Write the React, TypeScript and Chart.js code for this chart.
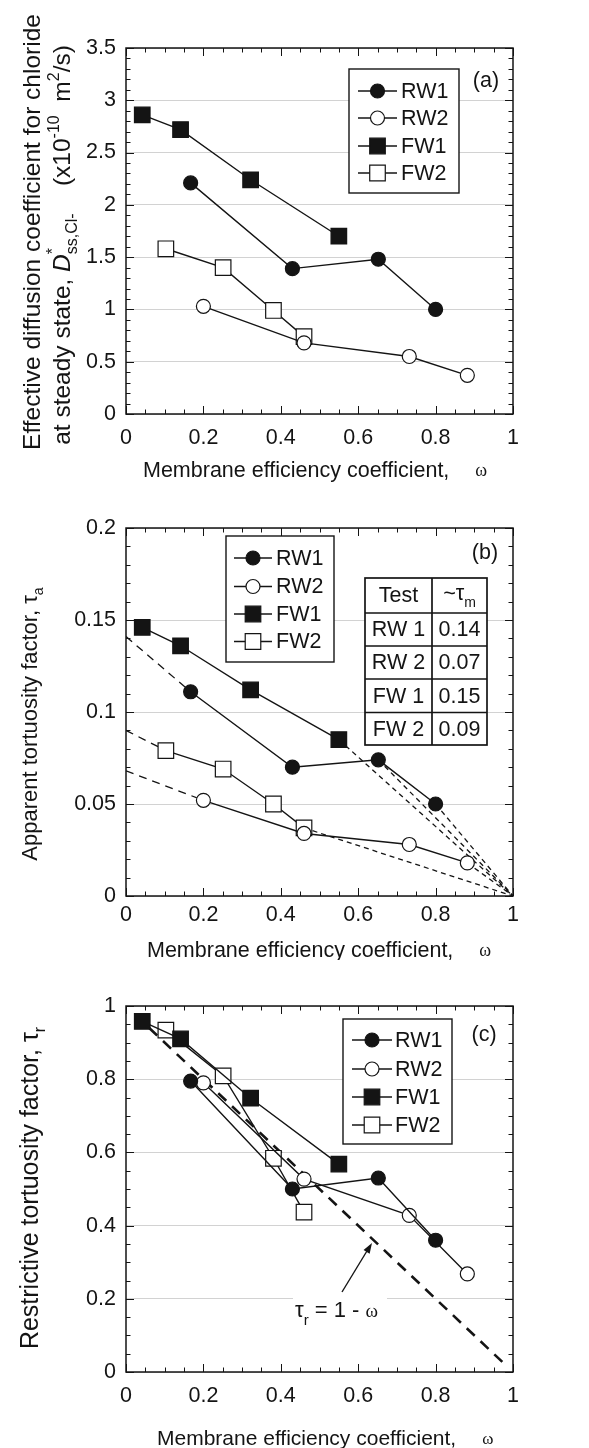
import React, { useEffect, useRef } from "react";
import { Chart, registerables } from "chart.js";

Chart.register(...registerables);

// ---------------- data ----------------
const seriesNames = ["RW1", "RW2", "FW1", "FW2"];

// membrane efficiency coefficient (omega) for each test
const rw1Omega = [0.167, 0.43, 0.652, 0.8];
const rw2Omega = [0.2, 0.46, 0.732, 0.882];
const fw1Omega = [0.042, 0.141, 0.322, 0.55];
const fw2Omega = [0.103, 0.251, 0.381, 0.46];

// (a) effective diffusion coefficient D*ss,Cl- (x1e-10 m2/s)
const rw1D = [2.21, 1.39, 1.48, 1.0];
const rw2D = [1.03, 0.68, 0.55, 0.37];
const fw1D = [2.86, 2.72, 2.24, 1.7];
const fw2D = [1.58, 1.4, 0.99, 0.74];

// (b) apparent tortuosity factor tau_a
const rw1TauA = [0.111, 0.07, 0.074, 0.05];
const rw2TauA = [0.052, 0.034, 0.028, 0.018];
const fw1TauA = [0.146, 0.136, 0.112, 0.085];
const fw2TauA = [0.079, 0.069, 0.05, 0.037];

// (b) dashed extrapolation lines
const extrapRw1LeftX = [0, 0.167];
const extrapRw1LeftY = [0.141, 0.111];
const extrapFw2LeftX = [0, 0.103];
const extrapFw2LeftY = [0.09, 0.079];
const extrapRw2LeftX = [0, 0.2];
const extrapRw2LeftY = [0.068, 0.052];
const extrapFw1RightX = [0.55, 1];
const extrapFw1RightY = [0.085, 0];
const extrapRw1MidX = [0.652, 1];
const extrapRw1MidY = [0.074, 0];
const extrapRw1RightX = [0.8, 1];
const extrapRw1RightY = [0.05, 0];
const extrapFw2RightX = [0.46, 1];
const extrapFw2RightY = [0.037, 0];
const extrapRw2RightX = [0.882, 1];
const extrapRw2RightY = [0.018, 0];

// (b) table
const tableTests = ["RW 1", "RW 2", "FW 1", "FW 2"];
const tableTauM = ["0.14", "0.07", "0.15", "0.09"];

// (c) restrictive tortuosity factor tau_r
const rw1TauR = [0.795, 0.5, 0.53, 0.36];
const rw2TauR = [0.79, 0.527, 0.428, 0.268];
const fw1TauR = [0.958, 0.91, 0.748, 0.568];
const fw2TauR = [0.934, 0.809, 0.584, 0.437];

// (c) tau_r = 1 - omega reference line
const identityOmega = [0.06, 0.985];
const identityTau = [0.94, 0.015];

// tick labels
const xTickLabels = ["0", "0.2", "0.4", "0.6", "0.8", "1"];
const yTickLabelsA = ["0", "0.5", "1", "1.5", "2", "2.5", "3", "3.5"];
const yTickLabelsB = ["0", "0.05", "0.1", "0.15", "0.2"];
const yTickLabelsC = ["0", "0.2", "0.4", "0.6", "0.8", "1"];

// ---------------- styling helpers ----------------
const SANS = '"Liberation Sans", Arial, sans-serif';
const SERIF = '"Liberation Serif", "Times New Roman", serif';
const INK = "#141414";
const LINE_W = 1.4;

type Seg = { t: string; size: number; dy?: number; italic?: boolean; serif?: boolean; noAdv?: boolean };

function fontOf(s: Seg) {
  return `${s.italic ? "italic " : ""}${s.size}px ${s.serif ? SERIF : SANS}`;
}

function drawRich(ctx: CanvasRenderingContext2D, segs: Seg[], x: number, y: number, rotate: boolean, align: "center" | "left") {
  let total = 0;
  for (const s of segs) {
    ctx.font = fontOf(s);
    if (!s.noAdv) total += ctx.measureText(s.t).width;
  }
  ctx.save();
  ctx.translate(x, y);
  if (rotate) ctx.rotate(-Math.PI / 2);
  ctx.fillStyle = INK;
  ctx.textAlign = "left";
  ctx.textBaseline = "alphabetic";
  let cx = align === "center" ? -total / 2 : 0;
  for (const s of segs) {
    ctx.font = fontOf(s);
    ctx.fillText(s.t, cx, s.dy || 0);
    if (!s.noAdv) cx += ctx.measureText(s.t).width;
  }
  ctx.restore();
}

const markerFill = ["#141414", "#fff", "#141414", "#fff"];
const markerStyle = ["circle", "circle", "rect", "rect"];
const CIRCLE_R = 7;
const RECT_R = 11;

function drawMarker(ctx: CanvasRenderingContext2D, k: number, x: number, y: number) {
  ctx.save();
  ctx.fillStyle = markerFill[k];
  ctx.strokeStyle = INK;
  ctx.lineWidth = 1.2;
  ctx.beginPath();
  if (markerStyle[k] === "circle") {
    ctx.arc(x, y, CIRCLE_R, 0, Math.PI * 2);
  } else {
    const h = RECT_R * Math.SQRT1_2;
    ctx.rect(x - h, y - h, 2 * h, 2 * h);
  }
  ctx.fill();
  ctx.stroke();
  ctx.restore();
}

type LegendSpec = { box: [number, number, number, number]; rows: number[]; lineX: [number, number]; textX: number };

function drawLegend(ctx: CanvasRenderingContext2D, spec: LegendSpec) {
  const [x0, y0, x1, y1] = spec.box;
  ctx.save();
  ctx.fillStyle = "#fff";
  ctx.fillRect(x0, y0, x1 - x0, y1 - y0);
  ctx.strokeStyle = INK;
  ctx.lineWidth = 1.4;
  ctx.strokeRect(x0, y0, x1 - x0, y1 - y0);
  seriesNames.forEach((name, k) => {
    const y = spec.rows[k];
    ctx.strokeStyle = INK;
    ctx.lineWidth = LINE_W;
    ctx.beginPath();
    ctx.moveTo(spec.lineX[0], y);
    ctx.lineTo(spec.lineX[1], y);
    ctx.stroke();
    drawMarker(ctx, k, (spec.lineX[0] + spec.lineX[1]) / 2, y);
    ctx.fillStyle = INK;
    ctx.font = `21.5px ${SANS}`;
    ctx.textAlign = "left";
    ctx.textBaseline = "middle";
    ctx.fillText(name, spec.textX, y + 1);
  });
  ctx.restore();
}

function isMajor(v: number, step: number) {
  const r = v / step;
  return Math.abs(r - Math.round(r)) < 1e-6;
}

function drawFrame(chart: any, minorX: number, majorX: number, minorY: number, majorY: number) {
  const { ctx, chartArea: a, scales } = chart;
  const xs = scales.x;
  const ys = scales.y;
  ctx.save();
  ctx.strokeStyle = INK;
  ctx.lineWidth = 1;
  ctx.beginPath();
  const nx = Math.round((xs.max - xs.min) / minorX);
  for (let i = 0; i <= nx; i++) {
    const v = xs.min + i * minorX;
    const px = Math.round(xs.getPixelForValue(v)) + 0.5;
    const L = isMajor(v, majorX) ? 8 : 4.5;
    ctx.moveTo(px, a.bottom);
    ctx.lineTo(px, a.bottom - L);
    ctx.moveTo(px, a.top);
    ctx.lineTo(px, a.top + L);
  }
  const ny = Math.round((ys.max - ys.min) / minorY);
  for (let i = 0; i <= ny; i++) {
    const v = ys.min + i * minorY;
    const py = Math.round(ys.getPixelForValue(v)) + 0.5;
    const L = isMajor(v, majorY) ? 8 : 4.5;
    ctx.moveTo(a.left, py);
    ctx.lineTo(a.left + L, py);
    ctx.moveTo(a.right, py);
    ctx.lineTo(a.right - L, py);
  }
  ctx.stroke();
  ctx.lineWidth = 1.5;
  ctx.strokeRect(a.left, a.top, a.right - a.left, a.bottom - a.top);
  ctx.restore();
}

function drawXTitle(ctx: CanvasRenderingContext2D, x: number, baseline: number, size: number, omegaGap: number) {
  ctx.save();
  ctx.fillStyle = INK;
  ctx.textAlign = "left";
  ctx.textBaseline = "alphabetic";
  ctx.font = `${size}px ${SANS}`;
  const t = "Membrane efficiency coefficient,";
  ctx.fillText(t, x, baseline);
  const w = ctx.measureText(t).width;
  ctx.font = `${Math.round(size * 0.82)}px ${SERIF}`;
  ctx.fillText("ω", x + w + omegaGap, baseline - 1);
  ctx.restore();
}

function seriesDatasets(xArr: number[][], yArr: number[][]) {
  return xArr.map((xv, k) => ({
    label: seriesNames[k],
    data: xv.map((x, i) => ({ x, y: yArr[k][i] })),
    showLine: true,
    borderColor: INK,
    borderWidth: LINE_W,
    backgroundColor: markerFill[k],
    pointStyle: markerStyle[k],
    pointRadius: markerStyle[k] === "circle" ? CIRCLE_R : RECT_R,
    pointBorderColor: INK,
    pointBorderWidth: 1.2,
    pointBackgroundColor: markerFill[k],
    order: 1,
  }));
}

function dashedDataset(xv: number[], yv: number[], dash: number[], width: number) {
  return {
    label: "",
    data: xv.map((x, i) => ({ x, y: yv[i] })),
    showLine: true,
    borderColor: INK,
    borderWidth: width,
    borderDash: dash,
    pointRadius: 0,
    order: 5,
  };
}

type PanelOpts = {
  height: number;
  top: number;
  bottom: number;
  xPad: number;
  yMax: number;
  yStep: number;
  yLabels: string[];
  datasets: any[];
  minorY: number;
  majorY: number;
  extra: (chart: any) => void;
};

function makeConfig(p: PanelOpts): any {
  const tickFont = { family: SANS, size: 21.5 };
  const framePlugin = {
    id: "frame",
    afterDraw(chart: any) {
      drawFrame(chart, 0.05, 0.2, p.minorY, p.majorY);
      p.extra(chart);
    },
  };
  return {
    type: "scatter",
    data: { datasets: p.datasets },
    options: {
      animation: false,
      responsive: false,
      maintainAspectRatio: false,
      devicePixelRatio: 1,
      events: [],
      layout: { padding: { top: p.top, right: 76, left: 0, bottom: 0 } },
      plugins: { legend: { display: false }, tooltip: { enabled: false } },
      scales: {
        x: {
          type: "linear",
          position: "bottom",
          min: 0,
          max: 1,
          ticks: {
            stepSize: 0.2,
            padding: p.xPad,
            color: INK,
            font: tickFont,
            maxRotation: 0,
            autoSkip: false,
            callback: (_v: any, i: number) => xTickLabels[i],
          },
          grid: { display: false, drawTicks: false },
          border: { display: false },
          afterFit: (s: any) => {
            s.height = p.height - p.bottom;
          },
        },
        y: {
          type: "linear",
          position: "left",
          min: 0,
          max: p.yMax,
          ticks: {
            stepSize: p.yStep,
            padding: 10,
            color: INK,
            font: tickFont,
            autoSkip: false,
            callback: (_v: any, i: number) => p.yLabels[i],
          },
          grid: { color: "#d2d2d2", lineWidth: 1, drawTicks: false },
          border: { display: false },
          afterFit: (s: any) => {
            s.width = 126;
          },
        },
      },
    },
    plugins: [framePlugin],
  };
}

// ---------------- panels ----------------
const panelA: PanelOpts = {
  height: 490,
  top: 48,
  bottom: 414,
  xPad: 11,
  yMax: 3.5,
  yStep: 0.5,
  yLabels: yTickLabelsA,
  minorY: 0.1,
  majorY: 0.5,
  datasets: seriesDatasets([rw1Omega, rw2Omega, fw1Omega, fw2Omega], [rw1D, rw2D, fw1D, fw2D]),
  extra: (chart: any) => {
    const ctx: CanvasRenderingContext2D = chart.ctx;
    drawLegend(ctx, { box: [349, 69, 459, 193], rows: [91, 118, 146, 173], lineX: [358, 397], textX: 401 });
    ctx.save();
    ctx.fillStyle = INK;
    ctx.font = `21.5px ${SANS}`;
    ctx.textAlign = "center";
    ctx.textBaseline = "middle";
    ctx.fillText("(a)", 486, 81);
    ctx.restore();
    drawRich(ctx, [{ t: "Effective diffusion coefficient for chloride", size: 24.5 }], 40, 232, true, "center");
    drawRich(
      ctx,
      [
        { t: "at steady state, ", size: 24.5 },
        { t: "D", size: 24.5, italic: true },
        { t: "*", size: 16, dy: -12, noAdv: true },
        { t: "ss,Cl-", size: 16, dy: 7 },
        { t: "    (x10", size: 24.5 },
        { t: "-10", size: 16, dy: -11 },
        { t: "  m", size: 24.5 },
        { t: "2", size: 16, dy: -11 },
        { t: "/s)", size: 24.5 },
      ],
      70,
      245,
      true,
      "center"
    );
    drawXTitle(ctx, 143, 477, 21.5, 26);
  },
};

const panelB: PanelOpts = {
  height: 470,
  top: 38,
  bottom: 406,
  xPad: 6,
  yMax: 0.2,
  yStep: 0.05,
  yLabels: yTickLabelsB,
  minorY: 0.01,
  majorY: 0.05,
  datasets: [
    ...seriesDatasets([rw1Omega, rw2Omega, fw1Omega, fw2Omega], [rw1TauA, rw2TauA, fw1TauA, fw2TauA]),
    dashedDataset(extrapRw1LeftX, extrapRw1LeftY, [8, 6], 1.3),
    dashedDataset(extrapFw2LeftX, extrapFw2LeftY, [8, 6], 1.3),
    dashedDataset(extrapRw2LeftX, extrapRw2LeftY, [8, 6], 1.3),
    dashedDataset(extrapFw1RightX, extrapFw1RightY, [5, 4], 1.3),
    dashedDataset(extrapRw1MidX, extrapRw1MidY, [5, 4], 1.3),
    dashedDataset(extrapRw1RightX, extrapRw1RightY, [5, 4], 1.3),
    dashedDataset(extrapFw2RightX, extrapFw2RightY, [5, 4], 1.3),
    dashedDataset(extrapRw2RightX, extrapRw2RightY, [5, 4], 1.3),
  ],
  extra: (chart: any) => {
    const ctx: CanvasRenderingContext2D = chart.ctx;
    drawLegend(ctx, { box: [226, 46, 334, 172], rows: [68, 96.5, 124, 151.5], lineX: [234, 272], textX: 276 });
    ctx.save();
    ctx.fillStyle = INK;
    ctx.font = `21.5px ${SANS}`;
    ctx.textAlign = "center";
    ctx.textBaseline = "middle";
    ctx.fillText("(b)", 485, 63);
    // table
    const tx = [365, 432, 487];
    const ty = [88, 123, 156, 189, 222.5, 255];
    ctx.fillStyle = "#fff";
    ctx.fillRect(tx[0], ty[0], tx[2] - tx[0], ty[5] - ty[0]);
    ctx.strokeStyle = INK;
    ctx.lineWidth = 1.7;
    ctx.strokeRect(tx[0], ty[0], tx[2] - tx[0], ty[5] - ty[0]);
    ctx.beginPath();
    ctx.moveTo(tx[1], ty[0]);
    ctx.lineTo(tx[1], ty[5]);
    for (let r = 1; r < 5; r++) {
      ctx.moveTo(tx[0], ty[r]);
      ctx.lineTo(tx[2], ty[r]);
    }
    ctx.stroke();
    ctx.fillStyle = INK;
    ctx.font = `21.5px ${SANS}`;
    ctx.fillText("Test", (tx[0] + tx[1]) / 2, (ty[0] + ty[1]) / 2 + 1);
    ctx.restore();
    drawRich(
      ctx,
      [
        { t: "~τ", size: 21.5 },
        { t: "m", size: 14, dy: 7 },
      ],
      (tx[1] + tx[2]) / 2,
      (ty[0] + ty[1]) / 2 + 4,
      false,
      "center"
    );
    ctx.save();
    ctx.fillStyle = INK;
    ctx.font = `21.5px ${SANS}`;
    ctx.textAlign = "center";
    ctx.textBaseline = "middle";
    tableTests.forEach((t, r) => {
      const cy = (ty[r + 1] + ty[r + 2]) / 2 + 1;
      ctx.fillText(t, (tx[0] + tx[1]) / 2, cy);
      ctx.fillText(tableTauM[r], (tx[1] + tx[2]) / 2, cy);
    });
    ctx.restore();
    drawRich(
      ctx,
      [
        { t: "Apparent tortuosity factor, ", size: 22 },
        { t: "τ", size: 22 },
        { t: "a", size: 14, dy: 6 },
      ],
      37,
      234,
      true,
      "center"
    );
    drawXTitle(ctx, 147, 467, 21.5, 26);
  },
};

const panelC: PanelOpts = {
  height: 488,
  top: 46,
  bottom: 412,
  xPad: 11,
  yMax: 1,
  yStep: 0.2,
  yLabels: yTickLabelsC,
  minorY: 0.05,
  majorY: 0.2,
  datasets: [
    ...seriesDatasets([rw1Omega, rw2Omega, fw1Omega, fw2Omega], [rw1TauR, rw2TauR, fw1TauR, fw2TauR]),
    dashedDataset(identityOmega, identityTau, [11, 8], 2.6),
  ],
  extra: (chart: any) => {
    const ctx: CanvasRenderingContext2D = chart.ctx;
    drawLegend(ctx, { box: [343, 59, 452, 184], rows: [80, 109, 137, 165], lineX: [352, 392], textX: 395 });
    ctx.save();
    ctx.fillStyle = INK;
    ctx.font = `21.5px ${SANS}`;
    ctx.textAlign = "center";
    ctx.textBaseline = "middle";
    ctx.fillText("(c)", 484, 75);
    // annotation background + arrow
    ctx.fillStyle = "#fff";
    ctx.fillRect(293, 335, 94, 36);
    ctx.strokeStyle = INK;
    ctx.lineWidth = 1.4;
    ctx.beginPath();
    ctx.moveTo(342, 332);
    ctx.lineTo(370, 286);
    ctx.stroke();
    const ang = Math.atan2(286 - 332, 370 - 342);
    const hx = 372;
    const hy = 283;
    ctx.fillStyle = INK;
    ctx.beginPath();
    ctx.moveTo(hx, hy);
    ctx.lineTo(hx - 11 * Math.cos(ang - 0.33), hy - 11 * Math.sin(ang - 0.33));
    ctx.lineTo(hx - 11 * Math.cos(ang + 0.33), hy - 11 * Math.sin(ang + 0.33));
    ctx.closePath();
    ctx.fill();
    ctx.restore();
    drawRich(
      ctx,
      [
        { t: "τ", size: 22 },
        { t: "r", size: 15, dy: 8 },
        { t: " = 1 - ", size: 22 },
        { t: "ω", size: 19, serif: true },
      ],
      295,
      357,
      false,
      "left"
    );
    drawRich(
      ctx,
      [
        { t: "Restrictive tortuosity factor, ", size: 25 },
        { t: "τ", size: 25 },
        { t: "r", size: 16, dy: 7 },
      ],
      38,
      228,
      true,
      "center"
    );
    drawXTitle(ctx, 157, 485, 21, 26);
  },
};

function ChartPanel({ top, opts }: { top: number; opts: PanelOpts }) {
  const ref = useRef<HTMLCanvasElement>(null);
  useEffect(() => {
    const chart = new Chart(ref.current as HTMLCanvasElement, makeConfig(opts));
    return () => chart.destroy();
  }, []);
  return (
    <div style={{ position: "absolute", left: 0, top, width: 589, height: opts.height }}>
      <canvas ref={ref} width={589} height={opts.height} style={{ display: "block", width: 589, height: opts.height }} />
    </div>
  );
}

export default function App() {
  return (
    <div style={{ position: "absolute", left: 0, top: 0, width: 589, height: 1448, background: "#fff", overflow: "hidden" }}>
      <ChartPanel top={0} opts={panelA} />
      <ChartPanel top={490} opts={panelB} />
      <ChartPanel top={960} opts={panelC} />
    </div>
  );
}
